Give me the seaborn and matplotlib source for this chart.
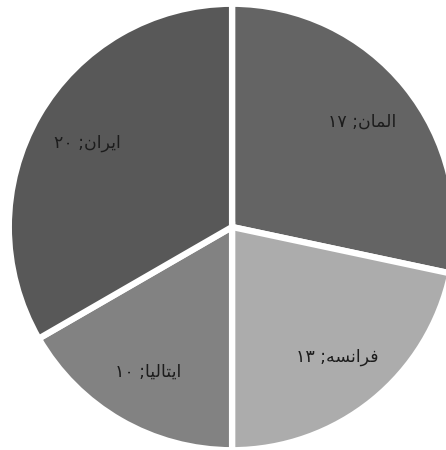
import matplotlib
matplotlib.use("Agg")
import matplotlib.pyplot as plt
import seaborn as sns

countries = ["المان", "فرانسه", "ایتالیا", "ایران"]
values = [17, 13, 10, 20]
colors = ["#646464", "#acacac", "#828282", "#585858"]

# arabic letters -> (isolated, final, initial, medial)
forms = {
    "ا": ("\uFE8D", "\uFE8E", None, None),
    "ر": ("\uFEAD", "\uFEAE", None, None),
    "ل": ("\uFEDD", "\uFEDE", "\uFEDF", "\uFEE0"),
    "م": ("\uFEE1", "\uFEE2", "\uFEE3", "\uFEE4"),
    "ن": ("\uFEE5", "\uFEE6", "\uFEE7", "\uFEE8"),
    "ف": ("\uFED1", "\uFED2", "\uFED3", "\uFED4"),
    "س": ("\uFEB1", "\uFEB2", "\uFEB3", "\uFEB4"),
    "ه": ("\uFEE9", "\uFEEA", "\uFEEB", "\uFEEC"),
    "ت": ("\uFE95", "\uFE96", "\uFE97", "\uFE98"),
    "ی": ("\uFBFC", "\uFBFD", "\uFBFE", "\uFBFF"),
}


def shape(word):
    out = []
    for i, ch in enumerate(word):
        iso, fin, ini, med = forms[ch]
        prev_joins = i > 0 and forms[word[i - 1]][2] is not None
        next_joins = i < len(word) - 1 and ini is not None
        if prev_joins and next_joins:
            out.append(med)
        elif prev_joins:
            out.append(fin)
        elif next_joins:
            out.append(ini)
        else:
            out.append(iso)
    return "".join(reversed(out))


fa_digits = str.maketrans("0123456789", "۰۱۲۳۴۵۶۷۸۹")
labels = [str(v).translate(fa_digits) + " ;" + shape(c) for c, v in zip(countries, values)]

sns.set_style("white")
plt.rcParams["font.family"] = ["DejaVu Sans"]

fig = plt.figure(figsize=(4.46, 4.5), dpi=100)
ax = fig.add_axes([0, 0, 1, 1])
wedges, texts = ax.pie(values, labels=labels, colors=colors, startangle=90,
                       counterclock=False, labeldistance=0.75, radius=1.01,
                       wedgeprops=dict(edgecolor="white", linewidth=4.5),
                       textprops=dict(fontsize=12.5, color="#1c1c1c"))
for t in texts:
    t.set_ha("center")
    t.set_va("center")
ax.set_xlim(-1.050, 0.968)
ax.set_ylim(-1.009, 1.027)
ax.axis("off")
fig.savefig("out.png", dpi=100)
